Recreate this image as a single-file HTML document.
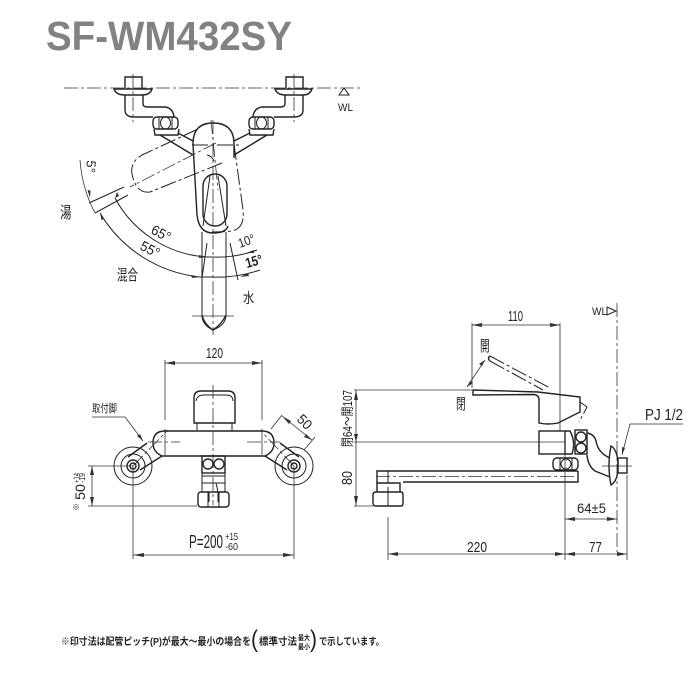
<!DOCTYPE html>
<html><head><meta charset="utf-8"><style>
html,body{margin:0;padding:0;background:#fff;width:700px;height:700px;overflow:hidden}
svg{display:block}
text{font-family:"Liberation Sans","Noto Sans CJK JP",sans-serif;fill:#222}
.l{fill:none;stroke:#222;stroke-width:1}
.t{fill:none;stroke:#222;stroke-width:1.4}
.c{fill:none;stroke:#333;stroke-width:.8;stroke-dasharray:14 3 3 3}
.d{fill:none;stroke:#333;stroke-width:.8}
.h{fill:none;stroke:#222;stroke-width:1;stroke-dasharray:16 3 3 3}
.a{fill:#333;stroke:none}
</style></head><body>
<svg width="700" height="700" viewBox="0 0 700 700" xmlns="http://www.w3.org/2000/svg">
<text x="46" y="50" font-size="41" font-weight="bold" textLength="246" lengthAdjust="spacingAndGlyphs" style="fill:#828282">SF-WM432SY</text>

<!-- TOP VIEW -->
<path class="c" d="M64 88H362"/>
<path class="c" d="M133 74V122M294 74V122"/>
<path class="t" d="M125 88V77H142V88M286 88V77H303V88"/>
<path class="t" d="M114 89H152Q150 95 142 95H125Q116 95 114 89ZM275 89H312Q310 95 303 95H286Q277 95 275 89Z"/>
<path class="t" d="M125 95V110Q125 117 134 117H153M143 95V104Q143 107 148 107H165Q173 108 174 117"/>
<path class="t" d="M303 95V110Q303 117 294 117H274M285 95V104Q285 107 280 107H262Q254 108 253 117"/>
<rect class="t" x="153" y="117" width="25" height="12" rx="4"/>
<rect class="t" x="249" y="117" width="25" height="12" rx="4"/>
<path class="l" d="M159 117V129M172 117V129M255 117V129M268 117V129"/>
<ellipse class="l" cx="165.500" cy="123" rx="5" ry="6"/><ellipse class="l" cx="261.500" cy="123" rx="5" ry="6"/>
<path class="t" d="M154 129L155 135H178L179 129M249 129L250 135H273L274 129"/>
<path class="t" d="M160 135L193 155M178 133L193 141M267 135L234 155M250 133L234 141"/>
<path class="t" d="M193 144Q193 123 213 123Q234 123 234 144V158"/>
<path class="t" d="M193 144L197 215Q199 233 213 233Q226 233 228 226"/>
<path class="h" d="M234 144L243 210Q245 228 232 231Q222 232 212 232"/>
<rect class="t" x="203" y="174" width="24" height="52" rx="12"/>
<path class="l" d="M210 176L203 226M218 176L226 226"/>
<path class="h" d="M192 145H239"/>
<path class="c" d="M213 120V335"/>
<path class="c" d="M211 120L218 190"/>
<path class="h" d="M198 129L142 155Q130 162 132 174Q136 194 150 192L222 163"/>
<path class="c" d="M216 143L130 187"/>
<path class="l" d="M89 203L124 187M95 213L128 195"/>
<path class="l" d="M207 243L202 278M230 243L238 280"/>
<path class="l" d="M202 232V315Q202 325 213 330Q226 325 226 315V232"/>
<path class="t" d="M202 315Q204 324 213 330Q222 324 226 315"/>
<path class="d" d="M192 316H234"/>
<path class="l" d="M207 155Q212 156 214 161"/>
<path class="d" d="M80 160A134 134 0 0 0 95 213"/>
<path class="l" d="M115 198A112 112 0 0 0 207 257H212A112 112 0 0 0 257 250"/>
<path class="l" d="M100 213A132 132 0 0 0 200 277H212A132 132 0 0 0 260 270"/>
<path class="a" d="M90 198l-2.500-8 3 .5zM100 213l4 6-2.500 1zM115 198l2-6 2 4zM207 257l-8-2v3zM200 277l-9-2 1 3zM246 253l8-3v3zM240 277l8-4 1 3z"/>
<text transform="translate(60,218) scale(.72,1)" font-size="16">湯</text>
<text transform="translate(117,280) scale(.7,1)" font-size="15">混合</text>
<text transform="translate(243,303) scale(.8,1)" font-size="14">水</text>
<text x="338" y="111" font-size="11" textLength="15" lengthAdjust="spacingAndGlyphs">WL</text>
<path class="l" d="M339 95L344 88L349 95Z"/>
<text transform="translate(87,160) rotate(95)" font-size="13">5°</text>
<text transform="translate(150,233) rotate(27)" font-size="14" textLength="20" lengthAdjust="spacingAndGlyphs">65°</text>
<text transform="translate(139,249) rotate(27)" font-size="14" textLength="20" lengthAdjust="spacingAndGlyphs">55°</text>
<text transform="translate(240,248) rotate(-20)" font-size="13" textLength="17" lengthAdjust="spacingAndGlyphs">10°</text>
<text transform="translate(247,268) rotate(-15)" font-size="14" font-weight="bold" textLength="17" lengthAdjust="spacingAndGlyphs">15°</text>

<!-- FRONT VIEW -->
<text x="206" y="358" font-size="15" textLength="17" lengthAdjust="spacingAndGlyphs">120</text>
<path class="d" d="M165 363H262M165 360V420M262 360V420M165 429V455M262 429V455"/>
<path class="a" d="M165 363l10-2v4zM262 363l-10-2v4z"/>
<path class="t" d="M194 423V398Q194 391 201 391H228Q235 391 235 398V423Z"/>
<path class="l" d="M196 401Q197 395 204 395H226Q233 395 233 401M197 423V431M232 423V431"/>
<path class="t" d="M165 431H262Q274 431 274 443Q274 452 265 456H162Q153 452 153 443Q153 431 165 431Z"/>
<path class="t" d="M147 443L128 457M162 456L140 470M280 443L299 457M265 456L287 470"/>
<path class="c" d="M213 385V505"/>
<path class="c" d="M148 442H180M247 442H280"/>
<path class="c" d="M133 466L168 430M294 466L260 430"/>
<circle class="l" cx="133" cy="466" r="19"/><circle class="l" cx="294" cy="466" r="19"/>
<circle class="l" cx="133" cy="466" r="12"/><circle class="l" cx="294" cy="466" r="12"/>
<circle class="t" cx="133" cy="466" r="6"/><circle class="t" cx="294" cy="466" r="6"/>
<circle class="t" cx="133" cy="466" r="3"/><circle class="t" cx="294" cy="466" r="3"/>
<rect class="t" x="202" y="456" width="23" height="17"/>
<circle class="t" cx="208" cy="464" r="5"/><circle class="t" cx="219" cy="464" r="5"/>
<path class="l" d="M202 473V492M225 473V492M202 483H225M202 476H225"/>
<rect class="t" x="198" y="492" width="31" height="15" rx="3"/>
<path class="l" d="M208 492V507M219 492V507M211 483H216L218 492V502M209 492V502"/>
<path class="d" d="M282 415L271 429M315 437L304 450M282 416L312 440"/>
<path class="a" d="M282 416l7 8 2-3zM312 440l-8-3 2-3z"/>
<text transform="translate(296,420) rotate(45)" font-size="14" textLength="15" lengthAdjust="spacingAndGlyphs">50</text>
<path class="d" d="M88 466H133M88 506H197M92 466V506"/>
<path class="a" d="M92 466l-2 9h4zM92 506l-2-9h4z"/>
<text transform="translate(85,500) rotate(-90)" font-size="14" textLength="16" lengthAdjust="spacingAndGlyphs">50</text>
<text transform="translate(79.500,483) rotate(-90)" font-size="8" textLength="10" lengthAdjust="spacingAndGlyphs">+14</text>
<text transform="translate(85,483) rotate(-90)" font-size="8" textLength="10" lengthAdjust="spacingAndGlyphs">-19</text>
<text x="76" y="510" font-size="8" text-anchor="middle">※</text>
<text x="92" y="412" font-size="11" textLength="25" lengthAdjust="spacingAndGlyphs">取付脚</text>
<path class="d" d="M92 417H125L143 441"/>
<path class="a" d="M143 441l-6-5 3-2z"/>
<path class="d" d="M133 466V559M294 466V559M133 555H294"/>
<path class="a" d="M133 555l11-2v4zM294 555l-11-2v4z"/>
<text x="189" y="548" font-size="18" textLength="34" lengthAdjust="spacingAndGlyphs">P=200</text>
<text x="225" y="540" font-size="10.500" textLength="13" lengthAdjust="spacingAndGlyphs">+15</text>
<text x="225" y="550" font-size="10.500" textLength="13" lengthAdjust="spacingAndGlyphs">-60</text>

<!-- SIDE VIEW -->
<text x="508" y="321" font-size="15" textLength="15" lengthAdjust="spacingAndGlyphs">110</text>
<path class="d" d="M472 323V388M560 323V431M472 325H560"/>
<path class="a" d="M472 325l10-2v4zM560 325l-10-2v4z"/>
<text x="592" y="315" font-size="11" textLength="15" lengthAdjust="spacingAndGlyphs">WL</text>
<path class="l" d="M607 307L616 311L607 315Z"/>
<path class="c" d="M617 303V552"/>
<text transform="translate(480,351) scale(.65,1)" font-size="15">開</text>
<text transform="translate(456,409) scale(.65,1)" font-size="15">閉</text>
<path class="d" d="M485 360L467 387"/>
<path class="a" d="M485 360l-6 4 3 2zM467 387l6-4-3-2z"/>
<path class="h" d="M490 356L550 388M490 361L543 390"/>
<path class="t" d="M490 356Q487 358 490 361"/>
<path class="t" d="M473 390V395L534 394.500Q539 395 539 400V423Q548 425 558 423L580 412V397L538 392Z"/>
<path class="h" d="M580 402L587 407L579 422"/>
<rect class="t" x="539" y="431" width="26" height="23"/>
<path class="t" d="M565 431H570Q576 442 572 454H565"/>
<rect class="t" x="575" y="430" width="12" height="24"/>
<circle class="t" cx="581" cy="437" r="5"/><circle class="t" cx="581" cy="448" r="5"/>
<path class="t" d="M587 433Q594 434 596 441Q598 453 610 458M587 455Q588 466 595 471L610 477"/>
<path class="t" d="M611 446Q618 450 618 466Q618 481 611 485Q607 466 611 446Z"/>
<rect class="t" x="618" y="458" width="9" height="15"/>
<path class="d" d="M602 466H632"/>
<rect class="t" x="553" y="458" width="25" height="12" rx="4"/>
<circle class="l" cx="566" cy="464" r="5"/><path class="l" d="M560 458V470M572 458V470"/>
<path class="t" d="M578 471V482H403M578 471H377V483"/>
<path class="c" d="M376 476.500H578"/>
<path class="l" d="M388 471V483"/>
<path class="t" d="M377 483H400V492H377ZM376 492H401Q403 492 403 495V503Q403 506 401 506H376Q373 506 373 503V495Q373 492 376 492Z"/>
<path class="l" d="M388 492V506M388 487V492"/>
<path class="d" d="M565 431V490M565 490V560M388 517V560M627 475V560"/>
<path class="d" d="M354 390H472M354 442H565M354 506H373M356 390V506"/>
<path class="a" d="M356 390l-2 10h4zM356 506l-2-10h4zM356 442l-2-8h4z"/>
<text transform="translate(352,447) rotate(-90)" font-size="13" textLength="57" lengthAdjust="spacingAndGlyphs">閉64～開107</text>
<text transform="translate(352,485) rotate(-90)" font-size="15" textLength="14" lengthAdjust="spacingAndGlyphs">80</text>
<text x="577" y="513" font-size="14" textLength="29" lengthAdjust="spacingAndGlyphs">64±5</text>
<path class="d" d="M565 519H617"/>
<path class="a" d="M565 519l10-2v4zM617 519l-10-2v4z"/>
<text x="467" y="552" font-size="15" textLength="20" lengthAdjust="spacingAndGlyphs">220</text>
<text x="589" y="552" font-size="15" textLength="13" lengthAdjust="spacingAndGlyphs">77</text>
<path class="d" d="M388 554H627"/>
<path class="a" d="M388 554l10-2v4zM565 554l-10-2v4zM565 554l10-2v4zM627 554l-10-2v4z"/>
<text x="645" y="420" font-size="16" textLength="38" lengthAdjust="spacingAndGlyphs">PJ 1/2</text>
<path class="d" d="M683 424H630L622 455"/>
<path class="a" d="M622 455l0-8 3 1z"/>

<!-- FOOTNOTE -->
<text x="61" y="645" font-size="10" font-weight="bold" textLength="190" lengthAdjust="spacingAndGlyphs">※印寸法は配管ピッチ(P)が最大～最小の場合を</text>
<text x="251" y="647" font-size="24" textLength="7" lengthAdjust="spacingAndGlyphs">(</text>
<text x="259" y="645" font-size="10" font-weight="bold" textLength="38" lengthAdjust="spacingAndGlyphs">標準寸法</text>
<text x="298" y="640" font-size="7" font-weight="bold" textLength="12" lengthAdjust="spacingAndGlyphs">最大</text>
<text x="298" y="649" font-size="7" font-weight="bold" textLength="12" lengthAdjust="spacingAndGlyphs">最小</text>
<text x="310" y="647" font-size="24" textLength="7" lengthAdjust="spacingAndGlyphs">)</text>
<text x="319" y="645" font-size="10" font-weight="bold" textLength="65" lengthAdjust="spacingAndGlyphs">で示しています。</text>
</svg>
</body></html>
